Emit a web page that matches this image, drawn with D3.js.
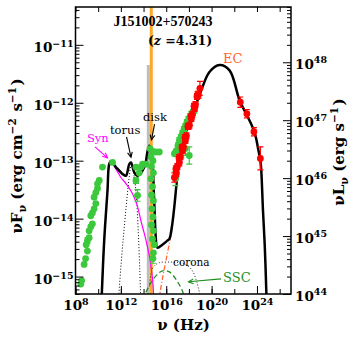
<!DOCTYPE html>
<html>
<head>
<meta charset="utf-8">
<script src="https://cdnjs.cloudflare.com/ajax/libs/d3/7.8.5/d3.min.js"></script>
<style>
body { margin: 0; background: #fff; }
svg { display: block; }
</style>
</head>
<body>
<svg id="sed" width="357" height="342"></svg>
<script>
/*
SED of J151002+570243: model components plus data, log nu vs log nuFnu
*/

// model curves as [log nu, log nuFnu]
var totalModel = [[10.28,-15.5],[10.53,-14.38],[10.82,-13.52],[10.97,-13.06],[11.12,-13.01],[11.56,-13.11],
  [12.15,-13.23],[12.45,-13.26],[12.74,-13.06],[12.89,-13.03],[13.18,-13.20],[13.47,-13.26],[14.07,-13.11],
  [14.36,-12.83],[14.51,-12.74],[14.77,-13.00],[14.90,-13.52],[14.99,-13.95],[15.08,-14.33],[15.21,-14.50],
  [15.66,-14.45],[16.10,-14.38],[16.28,-14.35],[16.50,-14.14],[16.72,-13.78],[16.94,-13.34],[17.16,-13.00],
  [17.45,-12.67],[18.34,-12.19],[19.08,-11.79],[19.81,-11.47],[20.70,-11.35],[21.58,-11.44],[22.47,-11.96],
  [23.20,-12.25],[23.79,-12.51],[24.08,-12.77],[24.30,-13.00],[24.38,-13.17],[24.53,-13.86],[24.68,-14.44],
  [24.83,-15.30],[24.85,-15.5]];
var synModel = [[10.28,-15.5],[10.53,-14.38],[10.82,-13.53],[10.97,-13.08],[11.12,-13.03],[11.55,-13.14],
  [12.01,-13.29],[12.47,-13.40],[13.03,-13.57],[13.45,-13.78],[13.77,-14.04],[14.07,-14.26],[14.36,-14.50],
  [14.55,-14.68],[14.70,-14.90],[14.82,-15.10],[14.91,-15.45]];
var torusModel = [[11.77,-15.45],[12.03,-14.76],[12.29,-14.17],[12.56,-13.60],[12.74,-13.28],[12.89,-13.10],
  [13.05,-13.12],[13.18,-13.28],[13.36,-13.60],[13.53,-14.21],[13.67,-14.90],[13.76,-15.45]];
var coronaModel = [[14.51,-15.17],[14.77,-14.87],[15.04,-14.80],[15.39,-14.76],[16.28,-14.75],[17.16,-14.76],
  [17.87,-14.81],[18.31,-14.90],[18.66,-15.07],[18.93,-15.28],[19.06,-15.45]];
var sscModel = [[13.95,-15.40],[14.51,-15.15],[15.13,-14.98],[15.68,-14.90],[16.28,-14.92],[16.90,-15.06],
  [17.43,-15.25],[17.69,-15.42]];
var ecModel = [[15.35,-15.40],[15.68,-15.02],[16.01,-14.69],[16.43,-14.26],[16.67,-13.90]];

// data as [log nu, log nuFnu, error in dex]
var greenData = [[8.47,-15.13,0],[8.54,-15.07,0],[8.76,-14.79,0],[8.89,-14.69,0],[9.05,-14.56,0],
  [8.94,-14.45,0],[9.05,-14.38,0.05],[9.20,-14.33,0],[9.20,-14.21,0],[9.35,-14.14,0],[9.49,-14.09,0],
  [9.35,-13.95,0],[9.49,-13.90,0],[9.64,-13.83,0],[9.79,-13.74,0],[9.64,-13.63,0],[9.79,-13.55,0],
  [9.94,-13.48,0],[9.94,-13.40,0],[10.09,-13.34,0],[10.38,-13.11,0],[11.27,-13.03,0],
  [13.33,-13.11,0],[13.33,-13.34,0.05],[13.47,-13.60,0.1],[13.62,-13.21,0],[13.77,-13.11,0],
  [13.91,-13.06,0],[14.21,-13.06,0],
  [14.57,-12.79,0],[14.74,-12.83,0],[14.66,-12.93,0],[14.83,-13.00,0],[14.70,-13.10,0],[14.87,-13.21,0],
  [14.66,-13.31,0],[14.79,-13.45,0],[14.70,-13.59,0],[14.87,-13.69,0],[14.74,-13.83,0],[14.83,-13.97,0],
  [14.70,-14.11,0],[14.87,-14.21,0],[14.79,-14.35,0],[14.96,-14.45,0],[14.87,-14.59,0],[14.83,-14.69,0.08],
  [15.10,-12.85,0],[15.39,-12.85,0],
  [16.72,-12.88,0],[16.87,-12.83,0],[16.81,-13.31,0.12],
  [17.03,-12.74,0.05],[17.16,-12.65,0.05],[17.29,-12.60,0.05],[17.43,-12.53,0.05],[17.56,-12.46,0.05],
  [17.69,-12.41,0.05],[17.82,-12.34,0.05],[17.96,-12.29,0.05],[18.09,-12.24,0.05],[18.22,-12.20,0.05],
  [18.35,-12.17,0.05],[18.49,-12.13,0.05],[17.34,-12.83,0.12],[17.69,-12.79,0.12],[18.03,-12.91,0.15]];
var redXray = [[16.72,-13.29,0.08],[16.85,-13.14,0.05],[16.98,-13.10,0.05],[17.12,-12.95,0.05],
  [17.25,-12.93,0.05],[17.38,-12.77,0.05],[17.52,-12.76,0.05],[17.65,-12.60,0.05],[17.78,-12.57,0.05],
  [17.91,-12.41,0.05],[18.05,-12.39,0.05],[18.18,-12.24,0.05],[18.31,-12.20,0.05],[18.45,-12.06,0.05],
  [18.58,-12.03,0.05],[18.71,-11.89,0.05],[18.84,-11.86,0.06],[18.97,-11.75,0.12],
  [16.90,-13.22,0.06],[17.16,-13.03,0.06],[17.43,-12.83,0.05],[17.69,-12.65,0.05],[17.96,-12.41,0.05],
  [18.22,-12.27,0.05],[18.49,-12.10,0.05],[18.75,-11.87,0.06]];
var redGamma = [[22.53,-11.99,0.09],[23.11,-12.19,0.07],[23.73,-12.50,0.07],[24.30,-12.96,0.2]];

// reference lines (log nu)
var orangeNu = 14.68;
var greyNu = 14.42, greyTop = -11.35;

// ticks
var xTicks = [1e8,1e10,1e12,1e14,1e16,1e18,1e20,1e22,1e24,1e26];
var xLabeled = [1e8,1e12,1e16,1e20,1e24];
var yMajor = [1e-15,1e-14,1e-13,1e-12,1e-11];
var rMajor = [1e44,1e45,1e46,1e47,1e48];

var svg = d3.select("#sed");
var L = 75.5, R = 291, T = 7, B = 294;
var serif = "DejaVu Serif";

var x = d3.scaleLog().domain([1e8, 1e27]).range([L, R]);
var y = d3.scaleLog().domain([5e-16, 4.5e-11]).range([B, T]);
var yR = d3.scaleLog().domain([1e44, 9e48]).range([B, T]);

function px(d) { return x(Math.pow(10, d[0])); }
function py(d) { return y(Math.pow(10, d[1])); }

svg.append("clipPath").attr("id", "clip")
  .append("rect").attr("x", L).attr("y", T).attr("width", R - L).attr("height", B - T);

var plot = svg.append("g").attr("clip-path", "url(#clip)");

// grey band and orange line
plot.append("line")
  .attr("x1", x(Math.pow(10, greyNu))).attr("x2", x(Math.pow(10, greyNu)))
  .attr("y1", y(Math.pow(10, greyTop))).attr("y2", B)
  .attr("stroke", "#bdbdbd").attr("stroke-width", 3);
plot.append("line")
  .attr("x1", x(Math.pow(10, orangeNu))).attr("x2", x(Math.pow(10, orangeNu)))
  .attr("y1", T).attr("y2", B)
  .attr("stroke", "#ffa726").attr("stroke-width", 3);

var line = d3.line().x(px).y(py).curve(d3.curveCatmullRom.alpha(0.5));

function curve(data, color, width, dash) {
  plot.append("path").datum(data)
    .attr("d", line)
    .attr("fill", "none")
    .attr("stroke", color)
    .attr("stroke-width", width)
    .attr("stroke-dasharray", dash);
}

curve(torusModel, "#000", 1, "1,2");
curve(coronaModel, "#222", 1, "1,2");
curve(sscModel, "#1e8f1e", 1.3, "5,3");
curve(ecModel, "#ff6633", 1.3, "5,2,1,2");
curve(synModel, "#ff00ff", 1.2, null);
curve(totalModel, "#000", 2.5, null);

function points(data, color) {
  var g = plot.append("g");
  var eb = data.filter(function(d) { return d[2] > 0; });
  g.selectAll("line.eb").data(eb).enter().append("line")
    .attr("x1", px).attr("x2", px)
    .attr("y1", function(d) { return y(Math.pow(10, d[1] + d[2])); })
    .attr("y2", function(d) { return y(Math.pow(10, d[1] - d[2])); })
    .attr("stroke", color).attr("stroke-width", 1.2);
  [1, -1].forEach(function(s) {
    g.selectAll("line.cap" + s).data(eb).enter().append("line")
      .attr("x1", function(d) { return px(d) - 3; })
      .attr("x2", function(d) { return px(d) + 3; })
      .attr("y1", function(d) { return y(Math.pow(10, d[1] + s * d[2])); })
      .attr("y2", function(d) { return y(Math.pow(10, d[1] + s * d[2])); })
      .attr("stroke", color).attr("stroke-width", 1.2);
  });
  g.selectAll("circle").data(data).enter().append("circle")
    .attr("cx", px).attr("cy", py).attr("r", 3.4)
    .attr("fill", color);
}

points(greenData, "#3cc83c");
points(redXray, "#ff0000");
points(redGamma, "#ff0000");

// annotations, positions in log data units
function label(txt, nu, f, color, size) {
  svg.append("text")
    .attr("x", x(Math.pow(10, nu))).attr("y", y(Math.pow(10, f)))
    .attr("font-family", serif).attr("font-size", size)
    .attr("fill", color).text(txt);
}

function arrow(a, b, color) {
  var x1 = px(a), y1 = py(a), x2 = px(b), y2 = py(b);
  var ang = Math.atan2(y2 - y1, x2 - x1), h = 5.5, w = 0.45;
  svg.append("line").attr("x1", x1).attr("y1", y1).attr("x2", x2).attr("y2", y2)
    .attr("stroke", color).attr("stroke-width", 1.1);
  svg.append("path")
    .attr("d", "M" + (x2 - h * Math.cos(ang - w)) + "," + (y2 - h * Math.sin(ang - w)) +
      "L" + x2 + "," + y2 +
      "L" + (x2 - h * Math.cos(ang + w)) + "," + (y2 - h * Math.sin(ang + w)))
    .attr("fill", "none").attr("stroke", color).attr("stroke-width", 1.1);
}

label("Syn", 9.01, -12.68, "#ff00ff", "11.5px");
arrow([9.72, -12.76], [10.82, -12.95], "#ff00ff");
label("torus", 11.04, -12.54, "#000", "11.5px");
arrow([12.50, -12.59], [12.89, -12.94], "#000");
label("disk", 13.95, -12.32, "#000", "11.5px");
arrow([14.97, -12.37], [14.70, -12.64], "#000");
label("EC", 21.01, -11.31, "#ff6633", "13px");
label("corona", 16.60, -14.82, "#000", "10.5px");
label("SSC", 21.01, -15.09, "#1e8f1e", "13px");
arrow([20.83, -15.04], [17.96, -15.09], "#1e8f1e");

// axes
function powText(sel, base, supSize) {
  sel.each(function(d) {
    var e = Math.round(Math.log10(d));
    var t = d3.select(this);
    t.text(null);
    t.append("tspan").text("10");
    t.append("tspan").attr("dy", -5.5).attr("font-size", supSize)
      .text(e < 0 ? "\u2212" + (-e) : e);
  });
}

function styleAxis(g) {
  g.select(".domain").remove();
  g.selectAll(".tick line").attr("stroke", "#000").attr("stroke-width", 1);
  g.attr("font-family", serif).attr("font-weight", "bold").attr("font-size", "13.5px");
}

var minorY = y.ticks().filter(function(d) { return yMajor.indexOf(d) < 0; });
var minorR = yR.ticks().filter(function(d) { return rMajor.indexOf(d) < 0; });

svg.append("g").attr("transform", "translate(" + L + ",0)")
  .call(d3.axisLeft(y).tickValues(minorY).tickSize(-4).tickFormat(""))
  .call(styleAxis);
svg.append("g").attr("transform", "translate(" + L + ",0)")
  .call(d3.axisLeft(y).tickValues(yMajor).tickSize(-8).tickPadding(2))
  .call(styleAxis)
  .selectAll(".tick text").attr("dy", 7).call(powText, "10", "9.5px");

svg.append("g").attr("transform", "translate(" + R + ",0)")
  .call(d3.axisRight(yR).tickValues(minorR).tickSize(-4).tickFormat(""))
  .call(styleAxis);
svg.append("g").attr("transform", "translate(" + R + ",0)")
  .call(d3.axisRight(yR).tickValues(rMajor).tickSize(-8).tickPadding(4))
  .call(styleAxis)
  .selectAll(".tick text").attr("dy", 6).call(powText, "10", "9.5px");

svg.append("g").attr("transform", "translate(0," + B + ")")
  .call(d3.axisBottom(x).tickValues(xTicks).tickSize(-5).tickFormat(""))
  .call(styleAxis);
svg.append("g").attr("transform", "translate(0," + B + ")")
  .call(d3.axisBottom(x).tickValues(xLabeled).tickSize(-8))
  .call(styleAxis)
  .selectAll(".tick text").attr("y", 16).attr("dy", 0).call(powText, "10", "9.5px");

svg.append("g").attr("transform", "translate(0," + T + ")")
  .call(d3.axisTop(x).tickValues(xTicks).tickSize(-5).tickFormat(""))
  .call(styleAxis);

svg.append("rect")
  .attr("x", L).attr("y", T).attr("width", R - L).attr("height", B - T)
  .attr("fill", "none").attr("stroke", "#000").attr("stroke-width", 1.5);

// titles
svg.append("text").attr("x", 163).attr("y", 26).attr("text-anchor", "middle")
  .attr("font-family", "Liberation Serif").attr("font-weight", "bold").attr("font-size", "14px")
  .text("J151002+570243");
var zt = svg.append("text").attr("x", 180).attr("y", 45).attr("text-anchor", "middle")
  .attr("font-family", serif).attr("font-weight", "bold").attr("font-size", "12.5px");
zt.append("tspan").text("(");
zt.append("tspan").attr("font-style", "italic").text("z");
zt.append("tspan").text(" =4.31)");

var xl = svg.append("text").attr("x", 183.5).attr("y", 330).attr("text-anchor", "middle")
  .attr("font-family", serif).attr("font-weight", "bold").attr("font-size", "15px");
xl.text("\u03bd (Hz)");

function yLabel(xpos, ypos, letter, sups) {
  var t = svg.append("text")
    .attr("transform", "translate(" + xpos + "," + ypos + ") rotate(-90)")
    .attr("text-anchor", "middle")
    .attr("font-family", serif).attr("font-weight", "bold").attr("font-size", "15px");
  t.append("tspan").text("\u03bd" + letter);
  t.append("tspan").attr("dy", 4).attr("font-size", "11px").text("\u03bd");
  t.append("tspan").attr("dy", -4).text(" (erg");
  sups.forEach(function(s) {
    t.append("tspan").text(" " + s[0]);
    t.append("tspan").attr("dy", -6).attr("font-size", "10.5px").text(s[1]);
    t.append("tspan").attr("dy", 6).text("\u200a");
  });
  t.append("tspan").text(")");
}
yLabel(22, 156, "F", [["cm", "\u22122"], ["s", "\u22121"]]);
yLabel(344, 152, "L", [["s", "\u22121"]]);
</script>
</body>
</html>
